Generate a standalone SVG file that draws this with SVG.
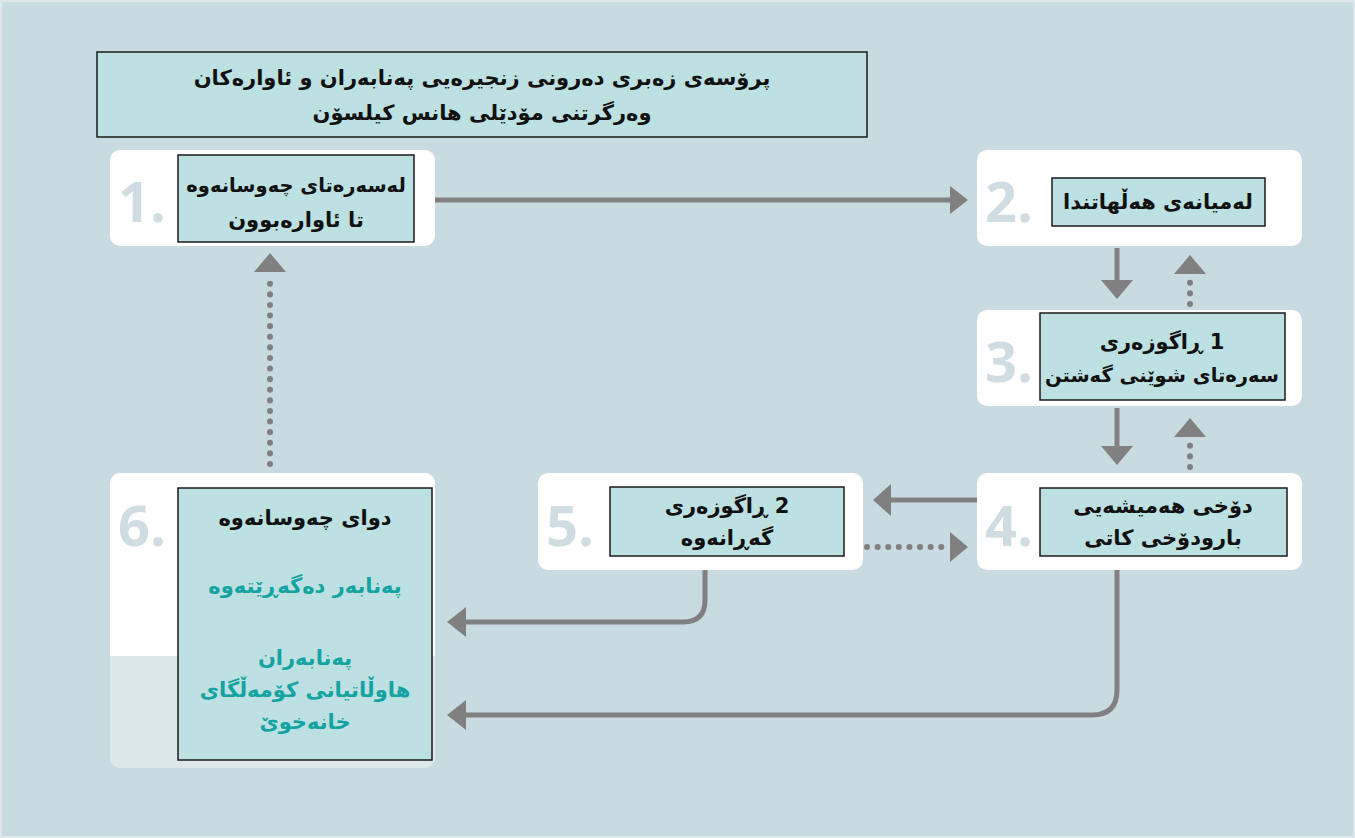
<svg xmlns="http://www.w3.org/2000/svg" width="1355" height="838" viewBox="0 0 1355 838">
<defs>
<style>
.card{fill:#ffffff}
.num{font-family:"Open Sans","DejaVu Sans",sans-serif;font-weight:700;font-size:56px;fill:#cfdde3}
.box{fill:#bde0e2;stroke:#1a1a1a;stroke-width:1.5}
.t{font-family:"DejaVu Sans",sans-serif;font-weight:700;font-size:21px;fill:#111;text-anchor:middle}
.tt{font-family:"DejaVu Sans",sans-serif;font-weight:700;font-size:21px;fill:#13a3a0;text-anchor:middle}
.sm{font-size:19.5px}
.solid{fill:none;stroke:#808080;stroke-width:5}
.dot{fill:none;stroke:#808080;stroke-width:6;stroke-linecap:round;stroke-dasharray:0.1 10.5}
.head{fill:#808080}
</style>
</defs>
<rect x="0" y="0" width="1355" height="838" fill="#c8dbe1"/>
<rect x="1" y="1" width="1353" height="836" fill="none" stroke="#dfe6e9" stroke-width="2"/>

<g id="title">
<rect class="box" x="97" y="52" width="770" height="85"/>
<text class="t" x="482" y="85">پرۆسەی زەبری دەرونی زنجیرەیی پەنابەران و ئاوارەکان</text>
<text class="t" x="482" y="120">وەرگرتنی مۆدێلی هانس کیلسۆن</text>
</g>

<g id="node1">
<rect class="card" x="110" y="150" width="325" height="96" rx="10"/>
<text class="num" x="118" y="222">1.</text>
<rect class="box" x="178" y="155" width="236" height="87"/>
<text class="t sm" x="296" y="192">لەسەرەتای چەوسانەوە</text>
<text class="t" x="296" y="227">تا ئاوارەبوون</text>
</g>

<g id="node2">
<rect class="card" x="977" y="150" width="325" height="96" rx="10"/>
<text class="num" x="985" y="222">2.</text>
<rect class="box" x="1052" y="178" width="213" height="48"/>
<text class="t" x="1158" y="209">لەمیانەی هەڵهاتندا</text>
</g>

<g id="node3">
<rect class="card" x="977" y="310" width="325" height="96" rx="10"/>
<text class="num" x="985" y="382">3.</text>
<rect class="box" x="1040" y="313" width="245" height="87"/>
<text class="t" x="1162" y="349">ڕاگوزەری &#x200E;1</text>
<text class="t sm" x="1162" y="382">سەرەتای شوێنی گەشتن</text>
</g>

<g id="node4">
<rect class="card" x="977" y="473" width="325" height="97" rx="10"/>
<text class="num" x="985" y="546">4.</text>
<rect class="box" x="1040" y="488" width="247" height="68"/>
<text class="t" x="1163" y="513">دۆخی هەمیشەیی</text>
<text class="t" x="1163" y="545">بارودۆخی کاتی</text>
</g>

<g id="node5">
<rect class="card" x="538" y="473" width="325" height="97" rx="10"/>
<text class="num" x="546" y="546">5.</text>
<rect class="box" x="610" y="487" width="234" height="69"/>
<text class="t" x="727" y="513">ڕاگوزەری &#x200E;2</text>
<text class="t" x="727" y="545">گەڕانەوە</text>
</g>

<g id="node6">
<rect x="110" y="473" width="325" height="295" rx="10" fill="#dde8eb"/>
<path class="card" d="M120,473 H425 A10,10 0 0 1 435,483 V656 H110 V483 A10,10 0 0 1 120,473 Z"/>
<text class="num" x="118" y="546">6.</text>
<rect class="box" x="178" y="488" width="254" height="272"/>
<text class="t" x="305" y="525">دوای چەوسانەوە</text>
<text class="tt" x="305" y="593">پەنابەر دەگەڕێتەوە</text>
<text class="tt" x="305" y="665">پەنابەران</text>
<text class="tt" x="305" y="697">هاوڵاتیانی کۆمەڵگای</text>
<text class="tt" x="305" y="729">خانەخوێ</text>
</g>

<g id="connectors">
<line class="solid" x1="435" y1="200" x2="952" y2="200"/>
<polygon class="head" points="968,200 950,186 950,214"/>

<line class="solid" x1="1117" y1="248" x2="1117" y2="282"/>
<polygon class="head" points="1117,299 1101,280 1133,280"/>
<line class="dot" x1="1190" y1="304" x2="1190" y2="281"/>
<polygon class="head" points="1190,255 1174,274 1206,274"/>

<line class="solid" x1="1117" y1="408" x2="1117" y2="447"/>
<polygon class="head" points="1117,465 1101,446 1133,446"/>
<line class="dot" x1="1190" y1="467" x2="1190" y2="445"/>
<polygon class="head" points="1190,418 1174,437 1206,437"/>

<line class="solid" x1="977" y1="500" x2="890" y2="500"/>
<polygon class="head" points="873,500 891,484 891,516"/>
<line class="dot" x1="867" y1="547" x2="945" y2="547"/>
<polygon class="head" points="968,547 950,532 950,562"/>

<path class="solid" d="M705,570 V600 Q705,622 683,622 H466"/>
<polygon class="head" points="447,622 466,607 466,637"/>

<path class="solid" d="M1117,570 V690 Q1117,715 1092,715 H466"/>
<polygon class="head" points="447,715 466,700 466,730"/>

<line class="dot" x1="270" y1="464" x2="270" y2="281"/>
<polygon class="head" points="270,253 254,272 286,272"/>
</g>
</svg>
